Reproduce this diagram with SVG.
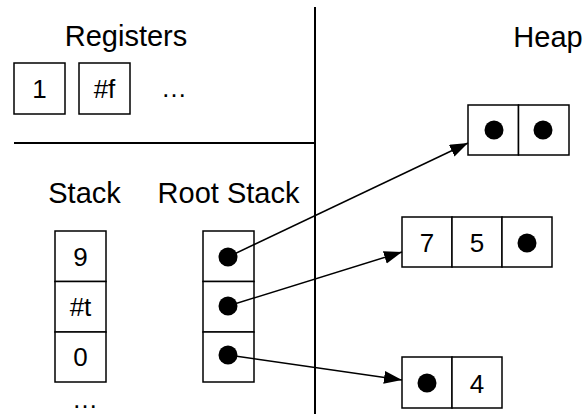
<svg xmlns="http://www.w3.org/2000/svg" width="586" height="414" viewBox="0 0 586 414">
<style>
  .lbl{font-family:"Liberation Sans",Arial,sans-serif;font-size:29px;fill:#000;text-anchor:middle}
  .val{font-family:"Liberation Sans",Arial,sans-serif;font-size:26px;fill:#000;text-anchor:middle}
  .cell{fill:#fff;stroke:#000;stroke-width:1.5}
  .dot{fill:#000}
  .div{stroke:#000;stroke-width:2;fill:none}
  .conn{stroke:#000;stroke-width:1.5;fill:none;marker-end:url(#ah)}
</style>
<defs>
  <marker id="ah" markerUnits="userSpaceOnUse" markerWidth="20" markerHeight="14" refX="18" refY="6.5" orient="auto">
    <path d="M0,0 L18,6.5 L0,13 Z" fill="#000"/>
  </marker>
</defs>
<rect width="586" height="414" fill="#fff"/>
<g id="dividers">
  <line class="div" x1="315" y1="7" x2="315" y2="414"/>
  <line class="div" x1="14" y1="143" x2="315" y2="143"/>
</g>
<g id="registers">
  <text class="lbl" x="126" y="46">Registers</text>
  <rect class="cell" x="14" y="63" width="51" height="51"/>
  <text class="val" x="39.5" y="98">1</text>
  <rect class="cell" x="79" y="63" width="51" height="51"/>
  <text class="val" x="104.5" y="98">#f</text>
  <text class="val" x="174" y="97">…</text>
</g>
<g id="stack">
  <text class="lbl" x="84.5" y="203">Stack</text>
  <rect class="cell" x="55" y="231" width="51" height="50.5"/>
  <rect class="cell" x="55" y="281.5" width="51" height="50.5"/>
  <rect class="cell" x="55" y="332" width="51" height="50"/>
  <text class="val" x="80.5" y="266">9</text>
  <text class="val" x="80.5" y="316">#t</text>
  <text class="val" x="80.5" y="366">0</text>
  <text class="val" x="85" y="408">…</text>
</g>
<g id="root-stack">
  <text class="lbl" x="228.5" y="203">Root Stack</text>
  <rect class="cell" x="203" y="231" width="51" height="50.5"/>
  <rect class="cell" x="203" y="281.5" width="51" height="50.5"/>
  <rect class="cell" x="203" y="332" width="51" height="50"/>
  <circle class="dot" cx="228" cy="257" r="9.5"/>
  <circle class="dot" cx="228" cy="306" r="9.5"/>
  <circle class="dot" cx="228" cy="355" r="9.5"/>
</g>
<g id="heap-label">
  <text class="lbl" x="548" y="47">Heap</text>
</g>
<g id="heap1">
  <rect class="cell" x="468" y="105" width="50.5" height="50"/>
  <rect class="cell" x="518.5" y="105" width="50.5" height="50"/>
  <circle class="dot" cx="494" cy="130" r="9.5"/>
  <circle class="dot" cx="543" cy="130" r="9.5"/>
</g>
<g id="heap2">
  <rect class="cell" x="402" y="217" width="50" height="50"/>
  <rect class="cell" x="452" y="217" width="50" height="50"/>
  <rect class="cell" x="502" y="217" width="50" height="50"/>
  <text class="val" x="427" y="252">7</text>
  <text class="val" x="477" y="252">5</text>
  <circle class="dot" cx="527" cy="243" r="9.5"/>
</g>
<g id="heap3">
  <rect class="cell" x="402" y="357" width="50" height="51"/>
  <rect class="cell" x="452" y="357" width="50" height="51"/>
  <circle class="dot" cx="427" cy="383" r="9.5"/>
  <text class="val" x="477" y="393">4</text>
</g>
<g id="connectors">
  <line class="conn" x1="228" y1="257" x2="468" y2="143"/>
  <line class="conn" x1="228" y1="306" x2="402" y2="252"/>
  <line class="conn" x1="228" y1="355" x2="402" y2="380"/>
</g>
</svg>
